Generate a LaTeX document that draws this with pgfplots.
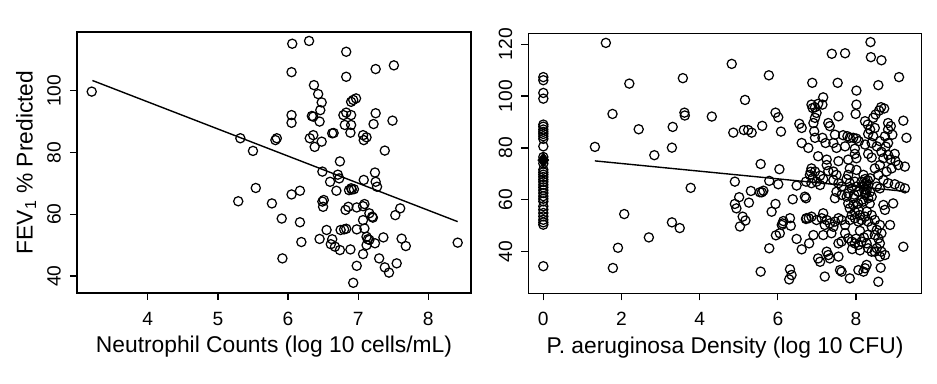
\documentclass[border=0pt]{standalone}
\usepackage{pgfplots}
\pgfplotsset{compat=1.18}
\usepackage{fontspec}
\setmainfont{Liberation Sans}

\pgfplotstableread{
x y
3.20 99.7
5.32 84.6
5.50 80.5
5.29 64.2
5.54 68.5
5.77 63.5
5.91 58.6
5.92 45.7
5.82 84.0
5.84 84.6
6.06 115.2
6.05 106.0
6.05 92.1
6.05 89.6
6.05 66.4
6.17 67.6
6.17 57.4
6.19 51.0
6.30 116.1
6.37 101.8
6.43 98.9
6.48 96.2
6.46 93.7
6.36 91.6
6.34 91.8
6.45 90.0
6.36 85.6
6.31 84.6
6.38 81.8
6.48 83.5
6.49 73.8
6.51 64.6
6.49 64.1
6.50 62.4
6.55 54.9
6.45 52.0
6.60 70.5
6.63 51.9
6.61 50.3
6.67 49.5
6.74 48.4
6.63 86.2
6.65 86.3
6.74 77.1
6.71 72.8
6.73 71.6
6.69 67.6
6.75 54.9
6.80 55.1
6.83 55.3
6.83 112.6
6.83 104.5
6.79 92.1
6.83 92.9
6.81 88.9
6.90 92.1
6.90 88.9
6.89 86.4
6.90 96.4
6.93 97.0
6.97 97.5
6.87 67.8
6.90 68.4
6.94 68.1
6.91 68.0
6.82 61.4
6.86 62.4
6.89 48.6
6.93 37.8
6.98 62.2
6.98 55.1
6.98 43.3
7.07 47.1
7.08 71.1
7.09 63.3
7.07 62.6
7.07 58.1
7.09 55.4
7.07 85.6
7.08 84.0
7.12 84.9
7.12 52.7
7.14 51.9
7.12 50.0
7.16 51.7
7.16 60.3
7.20 59.2
7.21 58.9
7.24 50.6
7.24 73.5
7.25 70.5
7.27 68.9
7.25 107.0
7.25 92.7
7.22 89.2
7.38 80.6
7.30 45.7
7.38 42.8
7.44 41.1
7.36 52.5
7.51 108.2
7.49 90.3
7.53 59.7
7.60 61.9
7.55 44.1
7.62 52.1
7.68 49.7
8.42 50.8
}\neutro

\pgfplotstableread{
x y
0 107.3
0 106.1
0 101.2
0 99.0
0 89.0
0 88.2
0 87.1
0 86.2
0 85.4
0 84.5
0 83.5
0 80.6
0 76.5
0 74.0
0 71.6
0 70.6
0 69.7
0 68.8
0 67.8
0 66.9
0 65.8
0 64.8
0 63.7
0 62.6
0 61.4
0 60.4
0 59.4
0 57.5
0 56.2
0 54.9
0 53.6
0 52.3
0 51.3
0 50.4
0 34.4
1.60 120.5
2.20 104.8
1.77 93.1
1.32 80.4
2.44 87.2
2.84 77.2
3.31 88.1
3.29 80.1
3.57 106.9
3.61 93.6
3.62 92.5
3.77 64.6
2.07 54.5
3.29 51.3
3.49 49.1
2.70 45.5
1.91 41.5
1.78 33.7
4.31 92.1
4.82 112.4
5.16 98.5
4.86 85.9
5.13 86.9
5.24 86.9
5.33 85.9
5.60 88.5
5.77 108.0
5.94 93.6
6.01 91.8
6.08 86.3
5.56 73.8
6.04 71.8
4.90 67.0
5.78 67.3
6.01 66.0
5.01 61.0
4.90 58.4
4.94 56.7
5.26 58.9
5.31 63.4
5.54 62.9
5.59 62.9
5.63 63.5
5.10 53.5
5.17 52.0
5.03 49.7
5.94 58.4
5.84 55.4
6.14 51.8
6.10 50.3
5.95 46.3
6.05 47.1
5.78 41.3
5.56 32.3
6.31 33.2
6.35 31.0
6.29 29.3
6.38 60.2
6.31 52.9
6.33 50.0
6.12 50.9
6.48 44.9
6.61 40.9
6.48 65.5
6.55 89.3
6.61 87.7
6.61 81.9
6.72 60.6
6.72 52.6
6.79 52.9
6.80 43.2
6.72 67.0
6.78 80.0
6.88 105.1
6.86 96.7
6.89 95.4
6.91 89.6
6.84 70.8
6.89 68.3
6.86 66.4
8.37 120.8
7.38 116.3
7.72 116.5
8.38 115.0
8.65 113.8
9.10 107.3
7.53 105.1
8.01 102.1
8.57 104.2
8.01 96.7
7.99 93.1
7.16 99.5
7.03 97.0
6.95 95.7
7.14 96.7
6.99 93.5
6.95 91.6
7.55 92.2
8.64 95.7
8.72 95.2
8.59 94.4
8.50 92.9
8.44 91.6
8.82 89.6
8.89 88.4
9.21 90.5
7.29 89.6
7.33 88.4
6.93 86.4
8.23 90.3
8.30 89.0
8.36 87.1
8.48 87.7
8.44 84.5
8.31 85.4
8.82 87.1
8.93 85.1
9.29 83.9
6.95 83.9
7.14 83.9
7.22 81.9
7.46 85.1
7.67 84.9
7.78 84.5
7.84 83.9
7.93 83.9
8.01 83.6
8.07 82.6
7.42 81.9
7.50 80.0
7.72 80.6
7.97 79.7
8.23 81.3
8.40 81.9
8.53 80.6
8.61 82.6
8.74 84.5
8.82 81.9
8.76 80.5
8.31 77.7
8.65 78.5
8.99 77.7
8.82 77.3
8.88 75.6
7.03 76.8
7.25 75.5
7.55 74.9
7.80 75.5
7.97 77.7
9.01 74.9
8.01 76.0
8.40 76.3
8.70 76.0
9.25 72.8
6.86 72.1
6.95 70.9
6.82 69.6
7.08 69.3
7.16 68.0
6.99 67.0
7.08 65.7
7.25 73.4
7.29 71.1
7.42 70.9
7.50 69.6
7.42 67.6
7.55 66.4
7.63 65.1
7.50 63.1
7.63 61.9
7.46 60.6
7.80 69.6
7.76 68.0
7.84 66.4
7.89 64.4
7.80 62.5
7.76 61.2
7.97 67.0
8.01 65.1
8.06 63.1
7.93 60.6
7.84 72.1
8.01 71.5
8.19 69.6
8.14 67.0
8.23 68.0
8.31 65.7
8.19 65.1
8.27 63.8
8.36 63.1
8.23 61.9
8.31 60.6
8.40 61.2
8.19 59.3
8.27 66.4
8.36 68.3
8.48 72.1
8.61 73.4
8.57 69.6
8.70 67.6
8.78 70.9
8.91 72.1
9.08 73.4
8.53 65.1
8.61 64.4
8.82 66.4
8.99 66.0
9.12 65.1
9.25 64.4
6.69 61.2
6.73 52.9
6.86 53.5
6.99 52.2
7.12 52.9
7.25 52.2
7.33 50.9
7.46 51.6
7.55 52.9
7.63 52.2
7.72 50.3
7.20 50.3
7.42 49.6
7.80 58.6
7.84 56.7
7.93 58.0
7.97 55.4
8.06 56.1
8.10 54.1
7.89 54.1
7.97 52.9
8.14 52.2
8.23 53.5
8.31 51.6
8.06 51.6
7.84 52.2
8.40 54.1
8.48 52.2
8.61 50.3
8.53 48.4
8.65 47.1
8.57 45.1
8.61 43.2
8.53 41.3
8.65 40.0
8.61 38.1
8.74 38.7
8.48 46.4
8.40 49.6
8.70 58.0
8.95 58.6
8.87 50.3
8.74 56.1
6.91 46.4
7.16 46.4
7.37 47.1
7.16 54.8
7.72 47.1
7.80 45.1
7.89 43.9
7.97 43.2
8.06 42.6
8.14 43.9
8.27 43.2
8.31 41.3
8.40 40.0
8.48 40.0
7.63 43.9
7.55 43.2
7.03 37.4
7.08 36.1
7.25 40.0
7.29 38.7
7.33 37.4
7.55 38.1
7.59 32.9
7.63 32.3
8.06 32.9
8.19 32.3
8.23 33.6
8.27 34.9
7.20 30.4
7.84 29.7
8.57 28.4
8.63 33.8
9.21 41.9
8.20 64.0
8.25 62.5
8.30 67.5
8.22 66.0
8.15 60.0
8.35 58.5
8.28 55.5
8.05 58.5
7.95 62.0
8.10 48.0
8.00 45.0
8.20 45.5
8.30 46.5
7.90 41.0
8.10 40.5
}\pseudo

\pgfplotsset{
  myax/.style={
    scale only axis, anchor=south west,
    axis line style={line width=0.65pt},
    tick style={line width=0.6pt, black},
    tick align=outside, major tick length=3.5pt,
    xtick pos=bottom, ytick pos=left,
    /pgf/number format/assume math mode=true,
    tick label style={font=\fontsize{9.6}{11}\selectfont},
    xticklabel style={yshift=-2.5pt},
    yticklabel style={xshift=-1pt, rotate=90, anchor=south},
    label style={font=\fontsize{11.4}{13}\selectfont},
    xlabel style={at={(axis description cs:0.5,-0.207)}, anchor=center},
    ylabel style={at={(axis description cs:-0.129,0.5)}, anchor=center},
  },
  pts/.style={only marks, mark=o, mark size=2.3pt, black, mark options={line width=0.62pt}},
}

\begin{document}
\begin{tikzpicture}
\path[use as bounding box] (0,0) rectangle (468.5pt,192pt);
\begin{axis}[myax, at={(38.5pt,45.5pt)}, width=197pt, height=130.5pt,
  xmin=2.99, xmax=8.61, ymin=34.5, ymax=119,
  xtick={4,5,6,7,8}, ytick={40,60,80,100},
  xlabel={Neutrophil Counts (log 10 cells/mL)},
  ylabel={FEV\textsubscript{1} \% Predicted}]
\addplot[pts] table[x=x,y=y] {\neutro};
\addplot[black, line width=0.7pt, no marks] coordinates {(3.21,103.3) (8.42,57.6)};
\end{axis}
\begin{axis}[myax, at={(264.15pt,45.35pt)}, width=196.7pt, height=130pt,
  xmin=-0.384, xmax=9.68, ymin=23.95, ymax=124.2,
  xtick={0,2,4,6,8}, ytick={40,60,80,100,120},
  xlabel={P. aeruginosa Density (log 10 CFU)}]
\addplot[pts] table[x=x,y=y] {\pseudo};
\addplot[only marks, mark=diamond*, mark size=3.6pt, black] coordinates {(0,75.3)};
\addplot[black, line width=0.7pt, no marks] coordinates {(1.32,75.0) (9.29,63.2)};
\end{axis}
\end{tikzpicture}
\end{document}
